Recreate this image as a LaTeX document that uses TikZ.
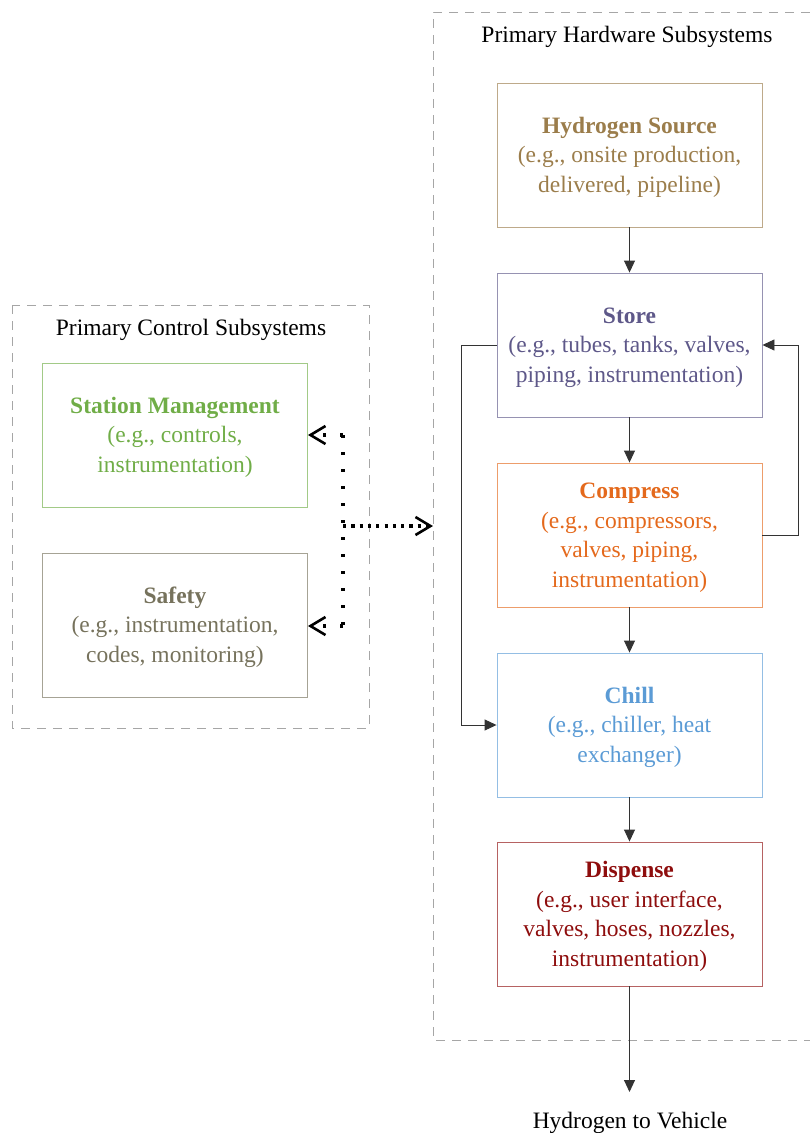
\documentclass[tikz,border=0pt]{standalone}
\usepackage{fontspec}
\setmainfont{Liberation Serif}
\usetikzlibrary{arrows.meta}

\definecolor{srccol}{HTML}{9B7D4B}
\definecolor{storecol}{HTML}{5E5889}
\definecolor{compcol}{HTML}{E4691C}
\definecolor{chillcol}{HTML}{5B9BD5}
\definecolor{dispcol}{HTML}{8E0D0D}
\definecolor{mgmtcol}{HTML}{70AD47}
\definecolor{safecol}{HTML}{76725C}
\definecolor{groupcol}{HTML}{A6A6A6}

\newcommand{\boxhead}[1]{\rule{0pt}{20.5pt}\textbf{#1}}

\begin{document}
\begin{tikzpicture}[x=1pt, y=-1pt,
    font=\fontsize{23.5}{29.5}\selectfont,
    subbox/.style={draw=#1!65!white, text=#1, line width=0.9pt,
        minimum width=265pt, minimum height=144pt, align=center, inner sep=0pt},
    group/.style={draw=groupcol, line width=0.9pt, dash pattern=on 9pt off 7pt},
    flow/.style={draw=black!80, line width=0.9pt, -{Triangle[length=12pt,width=11pt]}},
    dotv/.style={line width=3.2pt, dash pattern=on 3.2pt off 13.8pt},
    doth/.style={line width=3.2pt, dash pattern=on 3.2pt off 5.1pt},
    barb/.style={-{Straight Barb[length=15pt,width=18pt,line width=2.6pt]}}]
    \useasboundingbox (0,0) rectangle (810,1133);

    % Group frames
    \draw[group] (810,12) -- (433,12) -- (433,1040) -- (810,1040);
    \draw[group] (12,305) rectangle (369,728);
    \node (hwtitle) at (627,37) {Primary Hardware Subsystems};
    \node (cttitle) at (191,330) {Primary Control Subsystems};

    % Hardware chain
    \node[subbox=srccol] (source) at (629.5,155) {\boxhead{Hydrogen Source}\\(e.g., onsite production,\\delivered, pipeline)};
    \node[subbox=storecol] (store) at (629.5,345) {\boxhead{Store}\\(e.g., tubes, tanks, valves,\\piping, instrumentation)};
    \node[subbox=compcol] (compress) at (629.5,535) {\boxhead{Compress}\\(e.g., compressors,\\valves, piping,\\instrumentation)};
    \node[subbox=chillcol] (chill) at (629.5,725) {\boxhead{Chill}\\(e.g., chiller, heat\\exchanger)};
    \node[subbox=dispcol] (dispense) at (629.5,914) {\boxhead{Dispense}\\(e.g., user interface,\\valves, hoses, nozzles,\\instrumentation)};

    % Control boxes
    \node[subbox=mgmtcol] (station) at (175,435) {\boxhead{Station Management}\\(e.g., controls,\\instrumentation)};
    \node[subbox=safecol] (safety) at (175,625) {\boxhead{Safety}\\(e.g., instrumentation,\\codes, monitoring)};

    % Main flow
    \foreach \a/\b in {source/store, store/compress, compress/chill, chill/dispense}
        \draw[flow] (\a) -- (\b);
    \coordinate (out) at (629.5,1092);
    \draw[flow] (dispense) -- (out);
    \node (vehicle) at (630,1123) {Hydrogen to Vehicle};

    % Bypass and recycle loops
    \draw[flow] (store.west) -- (461,345) |- (chill.west);
    \draw[flow] (compress.east) -- (798,535) |- (store.east);

    % Control links
    \coordinate (tapN) at (343,435);
    \coordinate (tapS) at (343,626);
    \coordinate (tap) at (343,526);
    \coordinate (hwin) at (433,526);
    \draw[dotv] (tapN) -- (tapS);
    \draw[dotv, barb] (tapN) -- (station.east);
    \draw[dotv, barb] (tapS) -- (safety.east |- tapS);
    \draw[doth, barb] (tap) -- (hwin);
\end{tikzpicture}
\end{document}
